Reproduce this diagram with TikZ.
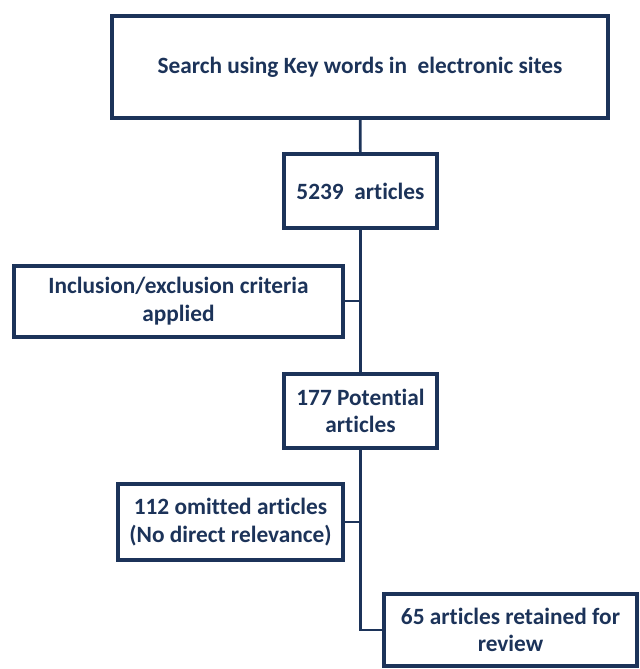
\documentclass[tikz,border=0pt]{standalone}
\usepackage{fontspec}
\setmainfont{Carlito}[Ligatures=NoCommon]
\definecolor{navy}{HTML}{1C3359}
\begin{document}
\begin{tikzpicture}[x=0.75pt, y=-0.75pt,
  box/.style={draw=navy, line width=3pt, text=navy, align=center, inner sep=0pt,
    font=\bfseries\fontsize{17.5}{20.5}\selectfont},
  link/.style={draw=navy, line width=2pt}]
  \useasboundingbox (0,0) rectangle (640,669);
  % Boxes of the flow
  \node[box, minimum width=372pt, minimum height=76.5pt] (search) at (360,67) {Search using Key words in~~electronic sites};
  \node[box, minimum width=114.75pt, minimum height=55.5pt] (found) at (360.5,191) {5239~~articles};
  \node[box, minimum width=246.75pt, minimum height=53.25pt] (criteria) at (178.5,301) {Inclusion/exclusion criteria\\applied};
  \node[box, minimum width=114.75pt, minimum height=55.5pt] (potential) at (360.5,411) {177 Potential\\articles};
  \node[box, minimum width=168.75pt, minimum height=57pt] (omitted) at (230.5,522) {112 omitted articles\\(No direct relevance)};
  \node[box, minimum width=189.75pt, minimum height=54pt] (retained) at (510.5,630) {65 articles retained for\\review};

  % Connectors
  \draw[link] (search) -- (found);
  \draw[link] (found) -- (potential);
  \draw[link] (criteria.east) -- (criteria.east -| found.south); % side branch
  \draw[link] (omitted.east) -- (omitted.east -| potential.south); % side branch
  \draw[link] (potential.south) |- (retained.west);
\end{tikzpicture}
\end{document}
